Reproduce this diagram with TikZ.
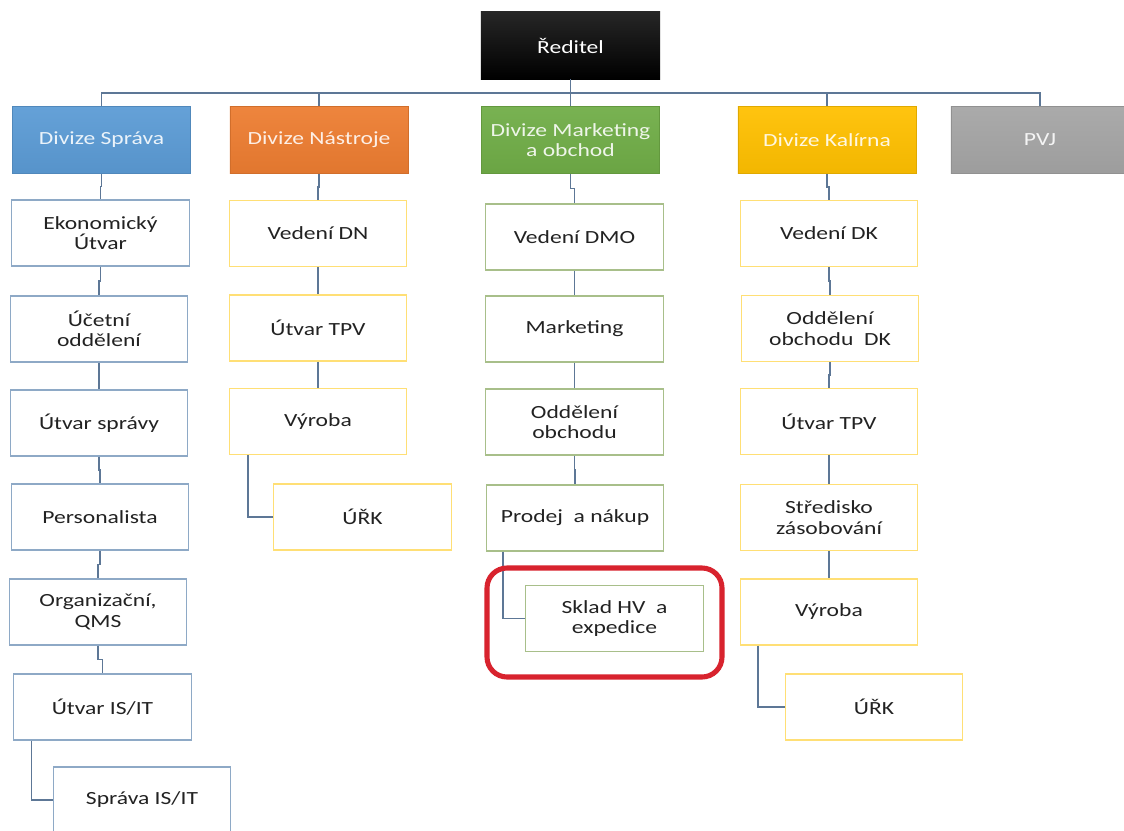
\documentclass[tikz,border=0pt]{standalone}
\usepackage{fontspec}
\setmainfont{Carlito}[FakeStretch=1.27]
\usetikzlibrary{positioning, calc}
\definecolor{bodytext}{HTML}{222222}
\definecolor{connline}{HTML}{5D7796}
\definecolor{sprblue}{HTML}{5B9BD5}
\definecolor{nasorange}{HTML}{ED7D31}
\definecolor{mktgreen}{HTML}{70AD47}
\definecolor{kalyellow}{HTML}{FFC000}
\definecolor{pvjgray}{HTML}{A5A5A5}
\definecolor{edgeblue}{HTML}{8EA9C6}
\definecolor{edgeyellow}{HTML}{FFDF75}
\definecolor{edgegreen}{HTML}{A8BF8A}
\definecolor{circlered}{HTML}{D8232E}
\tikzset{
chartfont/.style={font=\fontsize{13.2}{14.5}\selectfont}, % text of all boxes
box/.style={draw, line width=0.8pt, fill=white, chartfont, text=bodytext, align=center,
  minimum width=4.43cm, minimum height=1.65cm, inner sep=1pt}, % a unit box
sprbox/.style={box, draw=edgeblue},
nasbox/.style={box, draw=edgeyellow},
mktbox/.style={box, draw=edgegreen},
divbox/.style={chartfont, align=center, minimum width=4.45cm, minimum height=1.68cm,
  inner sep=1pt, top color=#1!94!white, bottom color=#1!95!black, draw=#1!88!black,
  line width=0.6pt, text=#1!12!white}, % a coloured division head
conn/.style={draw=connline, line width=1pt}, % connector lines
vjog/.style={to path={(\tikztostart.south) |- ($(\tikztostart.south)!0.5!(\tikztotarget.north)$)
  -| (\tikztotarget.north)}},
}
\begin{document}
\begin{tikzpicture}[x=0.025cm, y=-0.025cm]
  \useasboundingbox (0,0) rectangle (1124,830);
  \fill[white] (0,0) rectangle (1124,830);

  % top
  \node[chartfont, minimum width=4.48cm, minimum height=1.68cm, inner sep=1pt,
        top color=black!85, bottom color=black, text=white] (reditel) at (570.5,45.5) {Ředitel};

  % divisions
  \node[divbox=sprblue]   (sprava)    at (101.5,140) {Divize Správa};
  \node[divbox=nasorange] (nastroje)  at (319,140)   {Divize Nástroje};
  \node[divbox=mktgreen]  (marketing) at (570.5,140) {Divize Marketing\\a obchod};
  \node[divbox=kalyellow] (kalirna)   at (827,140)   {Divize Kalírna};
  \node[divbox=pvjgray]   (pvj)       at (1040,140)  {PVJ};

  % Divize Správa
  \node[sprbox] (ekon)    at (100.5,233) {Ekonomický\\Útvar};
  \node[sprbox] (ucet)    at (99,329)    {Účetní\\oddělení};
  \node[sprbox] (usprava) at (99,423)    {Útvar správy};
  \node[sprbox] (person)  at (100,517)   {Personalista};
  \node[sprbox] (organ)   at (98,612)    {Organizační,\\QMS};
  \node[sprbox] (isit)    at (102.5,707) {Útvar IS/IT};
  \node[sprbox] (sprisit) at (142,800)   {Správa IS/IT};

  % Divize Nástroje
  \node[nasbox] (veddn) at (318,233.5) {Vedení DN};
  \node[nasbox] (tpvn)  at (318,328)   {Útvar TPV};
  \node[nasbox] (vyrn)  at (318,421.5) {Výroba};
  \node[nasbox] (urkn)  at (362.5,517) {ÚŘK};

  % Divize Marketing a obchod
  \node[mktbox] (veddmo) at (574.5,237) {Vedení DMO};
  \node[mktbox] (mark)   at (574.5,329) {Marketing};
  \node[mktbox] (oddob)  at (574.5,422) {Oddělení\\obchodu};
  \node[mktbox] (prodej) at (575,518)   {Prodej \ a nákup};
  \node[mktbox] (sklad)  at (614.5,618.5) {Sklad HV \ a\\expedice};

  % Divize Kalírna
  \node[nasbox] (veddk) at (829,233.5) {Vedení DK};
  \node[nasbox] (odddk) at (830,328.5) {Oddělení\\obchodu \ DK};
  \node[nasbox] (tpvk)  at (829,421.5) {Útvar TPV};
  \node[nasbox] (stred) at (829,517.5) {Středisko\\zásobování};
  \node[nasbox] (vyrk)  at (829,612)   {Výroba};
  \node[nasbox] (urkk)  at (874,707)   {ÚŘK};

  % bus below the director
  \coordinate (bus) at (0,93);
  \draw[conn] (reditel.south) -- (marketing.north);
  \draw[conn] (sprava.north) |- (bus -| pvj.north) -- (pvj.north);
  \foreach \d in {nastroje, kalirna}
    \draw[conn] (\d.north) -- (\d.north |- bus);

  % chains below each division
  \foreach \a/\b in {sprava/ekon, ekon/ucet, ucet/usprava, usprava/person, person/organ, organ/isit,
                     nastroje/veddn, veddn/tpvn, tpvn/vyrn,
                     marketing/veddmo, veddmo/mark, mark/oddob, oddob/prodej,
                     kalirna/veddk, veddk/odddk, odddk/tpvk, tpvk/stred, stred/vyrk}
    \draw[conn] (\a) to[vjog] (\b);

  % side branches
  \draw[conn] (isit.south west) ++(18,0) |- (sprisit.west);
  \draw[conn] (vyrn.south west) ++(19,0) |- (urkn.west);
  \draw[conn] (prodej.south west) ++(17,0) |- (sklad.west);
  \draw[conn] (vyrk.south west) ++(18,0) |- (urkk.west);

  % highlight
  \draw[circlered, line width=3.6pt, rounded corners=0.5cm] (487,568) rectangle (722,677);
\end{tikzpicture}
\end{document}
